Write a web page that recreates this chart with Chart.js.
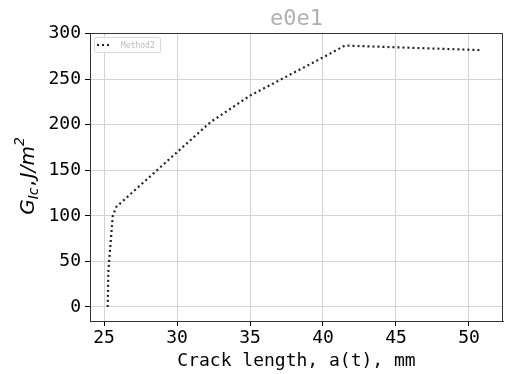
<!DOCTYPE html>
<html>
<head>
<meta charset="utf-8">
<script src="https://cdn.jsdelivr.net/npm/chart.js@4"></script>
<style>
  html, body { margin: 0; padding: 0; background: #fff; }
  #wrap { width: 505px; height: 374px; }
</style>
</head>
<body>
<div id="wrap"><canvas id="myChart" width="505" height="374"></canvas></div>
<script>
// crack length (mm) vs G_Ic (J/m^2)
const crackLength = [25.25, 25.3, 25.45, 25.6, 25.85, 32.3, 35.0, 40.0, 41.5, 50.8];
const gIc = [0, 40, 70, 100, 110, 203, 232, 274, 287, 282];
const xTicks = [25, 30, 35, 40, 45, 50];
const yTicks = [0, 50, 100, 150, 200, 250, 300];
const seriesName = 'Method2';
const chartTitle = 'e0e1';

const mono = "'DejaVu Sans Mono', monospace";

const points = crackLength.map((x, i) => ({ x: x, y: gIc[i] }));

// frame, title centred over the plot, legend box and math y label
const extras = {
    id: 'extras',
    afterDraw(chart) {
        const { ctx, chartArea } = chart;
        ctx.save();
        // top and right spines
        ctx.strokeStyle = '#333';
        ctx.lineWidth = 1;
        ctx.beginPath();
        ctx.moveTo(chartArea.left, chartArea.top + 0.5);
        ctx.lineTo(chartArea.right - 0.5, chartArea.top + 0.5);
        ctx.lineTo(chartArea.right - 0.5, chartArea.bottom);
        ctx.stroke();

        // title
        ctx.fillStyle = '#b0b0b0';
        ctx.font = "22px " + mono;
        ctx.textAlign = 'center';
        ctx.textBaseline = 'bottom';
        ctx.fillText(chartTitle, (chartArea.left + chartArea.right) / 2, chartArea.top - 3);

        // legend
        const lx = chartArea.left + 4, ly = chartArea.top + 4;
        ctx.fillStyle = 'rgba(255,255,255,0.8)';
        ctx.strokeStyle = '#d8d8d8';
        ctx.lineWidth = 1;
        ctx.beginPath();
        ctx.roundRect(lx + 0.5, ly + 0.5, 66, 15, 2);
        ctx.fill();
        ctx.stroke();
        ctx.strokeStyle = '#222';
        ctx.lineWidth = 2;
        ctx.setLineDash([2, 3]);
        ctx.beginPath();
        ctx.moveTo(lx + 3, ly + 8);
        ctx.lineTo(lx + 18, ly + 8);
        ctx.stroke();
        ctx.setLineDash([]);
        ctx.fillStyle = '#bbbbbb';
        ctx.font = "8px " + mono;
        ctx.textAlign = 'left';
        ctx.textBaseline = 'middle';
        ctx.fillText(seriesName, lx + 27, ly + 8.5);

        // y axis title: G_Ic, J/m^2
        ctx.translate(34, 176);
        ctx.rotate(-Math.PI / 2);
        ctx.fillStyle = '#000';
        ctx.textBaseline = 'alphabetic';
        const big = "italic 20px 'DejaVu Sans'";
        const small = "italic 14px 'DejaVu Sans'";
        const parts = [
            { t: 'G', f: big, dy: 0, gap: 0 },
            { t: 'Ic', f: small, dy: 4, gap: 1 },
            { t: ',', f: "20px 'DejaVu Sans'", dy: 0, gap: 2 },
            { t: 'J/m', f: big, dy: 0, gap: 0 },
            { t: '2', f: small, dy: -10, gap: 0 }
        ];
        let w = 0;
        parts.forEach(p => { ctx.font = p.f; w += ctx.measureText(p.t).width + p.gap; });
        let x = -w / 2;
        ctx.textAlign = 'left';
        parts.forEach(p => {
            ctx.font = p.f;
            ctx.fillText(p.t, x, p.dy);
            x += ctx.measureText(p.t).width + p.gap;
        });
        ctx.restore();
    }
};

const data = {
    datasets: [{
        label: seriesName,
        data: points,
        showLine: true,
        borderColor: '#222',
        borderWidth: 2.2,
        borderDash: [2, 3],
        pointRadius: 0,
        tension: 0,
        fill: false
    }]
};

const config = {
    type: 'scatter',
    data: data,
    options: {
        responsive: false,
        animation: false,
        layout: { padding: { top: 33, right: 2, left: 0, bottom: 0 } },
        plugins: {
            legend: { display: false },
            tooltip: { enabled: false }
        },
        scales: {
            x: {
                type: 'linear',
                min: 24.04,
                max: 52.33,
                afterBuildTicks: (scale) => { scale.ticks = xTicks.map(v => ({ value: v })); },
                afterFit: (scale) => { scale.height = 53; },
                grid: { color: '#d3d3d3', tickColor: '#000', tickLength: 5 },
                border: { color: '#333', width: 1 },
                ticks: {
                    color: '#000',
                    padding: 2,
                    maxRotation: 0,
                    font: { family: mono, size: 18 }
                },
                title: {
                    display: true,
                    text: 'Crack length, a(t), mm',
                    color: '#000',
                    padding: { top: 0, bottom: 2 },
                    font: { family: mono, size: 18 }
                }
            },
            y: {
                type: 'linear',
                min: -15.5,
                max: 300.8,
                afterBuildTicks: (scale) => { scale.ticks = yTicks.map(v => ({ value: v })); },
                afterFit: (scale) => { scale.width = 90; },
                grid: { color: '#d3d3d3', tickColor: '#000', tickLength: 5 },
                border: { color: '#333', width: 1 },
                ticks: {
                    color: '#000',
                    padding: 4,
                    font: { family: mono, size: 18 }
                }
            }
        }
    },
    plugins: [extras]
};

const myChart = new Chart(document.getElementById('myChart').getContext('2d'), config);
</script>
</body>
</html>
